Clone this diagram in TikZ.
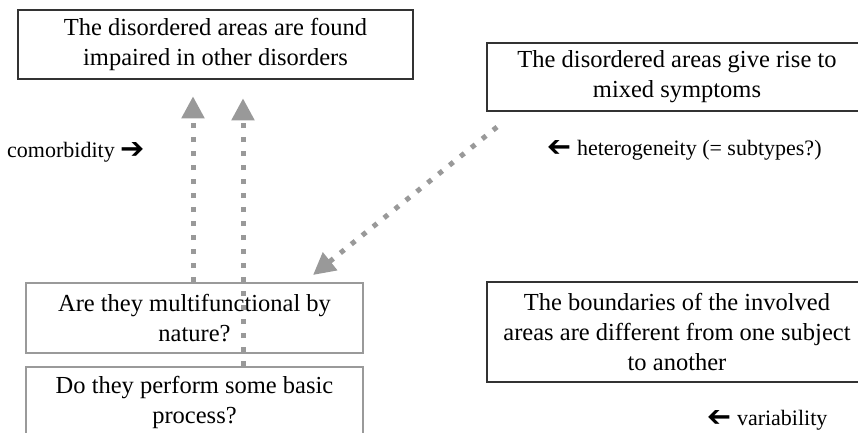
\documentclass[tikz,border=0pt]{standalone}
\usepackage{fontspec}
\usepackage{graphicx}
\setmainfont{Liberation Serif}
\newfontfamily\symfont{DejaVu Sans}
\usetikzlibrary{arrows.meta}
\definecolor{darkframe}{HTML}{333333}
\definecolor{grayframe}{HTML}{9A9A9A}
\definecolor{arrowgray}{HTML}{999999}
\newcommand{\rarr}{{\symfont\fontsize{29}{29}\selectfont ➔}}
\newcommand{\larr}{\reflectbox{\rarr}}
\tikzset{
  boxtext/.style={font=\fontsize{24.5}{30}\selectfont, align=center, inner sep=0pt},
  darkbox/.style={boxtext, draw=darkframe, line width=2.6pt},
  graybox/.style={boxtext, draw=grayframe, line width=1.6pt, fill=white},
  lbl/.style={font=\fontsize{22}{26}\selectfont, inner sep=0pt, anchor=base west},
  dotarrow/.style={draw=arrowgray, line width=5pt, dash pattern=on 5pt off 9pt,
    -{Triangle[length=22pt,width=22pt,fill=arrowgray]}},
}
\begin{document}
\begin{tikzpicture}[x=1pt,y=-1pt]
\useasboundingbox (0,0) rectangle (858,432);
\node[darkbox, minimum width=395, minimum height=69] (top) at (215.5,44.5)
  {The disordered areas are found\\impaired in other disorders};
\node[darkbox, minimum width=380, minimum height=68] (mix) at (677,77)
  {The disordered areas give rise to\\mixed symptoms};
\node[darkbox, minimum width=380, minimum height=100] (bnd) at (677,332)
  {The boundaries of the involved\\areas are different from one subject\\to another};
\node[graybox, minimum width=337, minimum height=70] (are) at (194.5,318)
  {Are they multifunctional by\\nature?};
\node[graybox, minimum width=337, minimum height=70] (do) at (194.5,402)
  {Do they perform some basic\\process?};

\node[lbl] (com) at (7,157) {comorbidity \raisebox{-1pt}[0pt][0pt]{\rarr}};
\node[lbl] (het) at (547,155) {\raisebox{-1pt}[0pt][0pt]{\larr} heterogeneity (= subtypes?)};
\node[lbl] (var) at (707,425) {\raisebox{-1pt}[0pt][0pt]{\larr} variability};

\coordinate (ds) at (497,127);
\coordinate (de) at (313,275);
\draw[dotarrow, shorten >=16pt] (are.north -| 193,0) -- (top.south -| 193,0);
\draw[dotarrow, shorten >=18pt] (do.north -| 243,0) -- (top.south -| 243,0);
\draw[dotarrow] (ds) -- (de);
\end{tikzpicture}
\end{document}
